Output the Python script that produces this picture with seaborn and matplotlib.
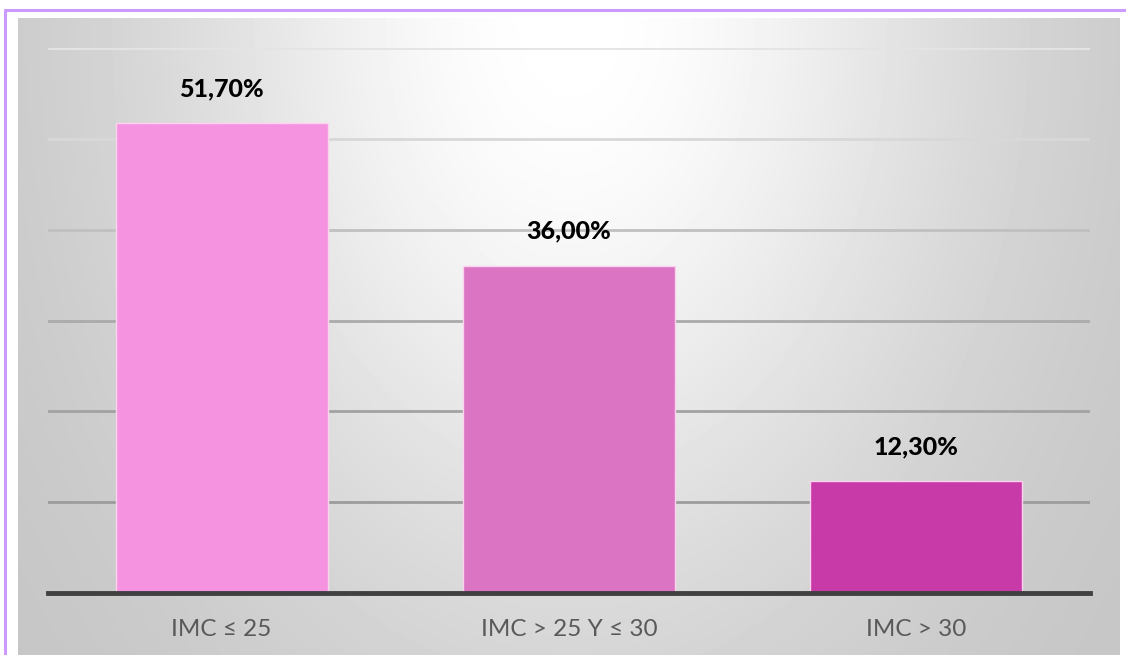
import numpy as np
import pandas as pd
import matplotlib
matplotlib.use("Agg")
import matplotlib.pyplot as plt
from matplotlib.lines import Line2D
import seaborn as sns

categories = ["IMC ≤ 25", "IMC > 25 Y ≤ 30", "IMC > 30"]
percentages = [51.7, 36.0, 12.3]
value_labels = ["51,70%", "36,00%", "12,30%"]
bar_colors = ["#F593E0", "#DA74C3", "#C83AA8"]

sns.set_theme(style="white")
plt.rcParams["font.family"] = ["Lato", "DejaVu Sans"]

W, H = 1126, 655
fig = plt.figure(figsize=(W / 100, H / 100), dpi=100)
fig.patch.set_facecolor("white")

# Soft radial gradient behind the chart area, bright at the top centre
bx0, bx1, by0 = 18, 1120, 18
bg = fig.add_axes([bx0 / W, 0, (bx1 - bx0) / W, (H - by0) / H], zorder=0)
xs = np.arange(bx0, bx1)
ys = np.arange(by0, H)
X, Y = np.meshgrid(xs, ys)
d = np.sqrt(((X - 570) / 500.0) ** 2 + ((Y - 20) / 720.0) ** 2)
v = (255 - 60 * (1 - np.exp(-(d / 0.82) ** 2))) / 255.0
bg.imshow(v, cmap="gray", vmin=0, vmax=1, aspect="auto", interpolation="bilinear")
bg.set_axis_off()

# Purple outline along the top and left edges
fig.add_artist(Line2D([5 / W, 1], [1 - 10 / H, 1 - 10 / H], color="#CC99FF", lw=2.2,
                      transform=fig.transFigure))
fig.add_artist(Line2D([5 / W, 5 / W], [0, 1 - 10 / H], color="#CC99FF", lw=2.2,
                      transform=fig.transFigure))

# Main plot area
px0, px1, py_top, py_base = 48, 1090, 48, 593
ax = fig.add_axes([px0 / W, (H - py_base) / H, (px1 - px0) / W, (py_base - py_top) / H], zorder=2)
ax.patch.set_alpha(0)

df = pd.DataFrame({"categoria": categories, "porcentaje": percentages})
sns.barplot(data=df, x="categoria", y="porcentaje", hue="categoria",
            palette=bar_colors, legend=False, width=0.61, ax=ax,
            edgecolor="#FBD3EE", linewidth=1.0, saturation=1)

ax.set_ylim(0, 60)
ax.set_xlim(-0.5, 2.5)
ax.set_yticks(np.arange(0, 61, 10))
ax.set_yticklabels([])
ax.tick_params(axis="y", length=0)
ax.tick_params(axis="x", length=0, pad=19, labelsize=17.5, labelcolor="#595959")
ax.set_xlabel("")
ax.set_ylabel("")

ax.yaxis.grid(True, lw=2.0)
grid_cols = ["#404040", "#9c9c9c", "#a2a2a2", "#aaaaaa", "#c0c0c0", "#d8d8d8", "#e4e4e4"]
for gl, c in zip(ax.yaxis.get_gridlines(), grid_cols):
    gl.set_color(c)
ax.set_axisbelow(True)

for s in ["top", "right", "left"]:
    ax.spines[s].set_visible(False)
ax.spines["bottom"].set_color("#404040")
ax.spines["bottom"].set_linewidth(3.5)
ax.spines["bottom"].set_zorder(5)

for i, (val, lab) in enumerate(zip(percentages, value_labels)):
    ax.annotate(lab, xy=(i, val), xytext=(0, 25), textcoords="offset points",
                ha="center", va="center", fontsize=18, fontweight="black", color="black")

fig.savefig("out.png", dpi=100)
